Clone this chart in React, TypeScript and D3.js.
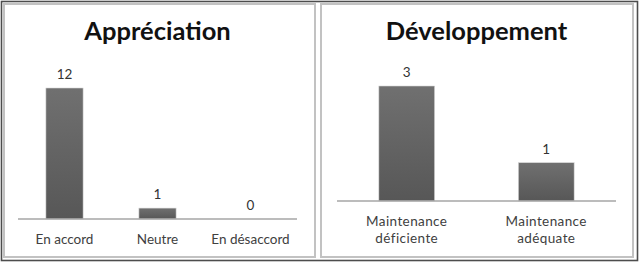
import React from "react";
import * as d3 from "d3";

const leftTitle = "Appréciation";
const leftCategories = ["En accord", "Neutre", "En désaccord"];
const leftValues = [12, 1, 0];

const rightTitle = "Développement";
const rightCategories = [["Maintenance", "déficiente"], ["Maintenance", "adéquate"]];
const rightValues = [3, 1];

const FONT = "Lato, 'Open Sans', sans-serif";

type PanelProps = {
  title: string;
  cats: string[][];
  values: number[];
  x0: number;
  x1: number;
  yBase: number;
  yTop: number;
  yMaxVal: number;
  letterSpacing: number;
};

function Panel({ title, cats, values, x0, x1, yBase, yTop, yMaxVal, letterSpacing }: PanelProps) {
  const keys = cats.map((c) => c.join(" "));
  const x = d3.scaleBand<string>().domain(keys).range([x0, x1]).paddingInner(0.6).paddingOuter(0.3);
  const y = d3.scaleLinear().domain([0, yMaxVal]).range([yBase, yTop]);
  return (
    <g>
      <text x={(x0 + x1) / 2} y={40} textAnchor="middle" fontFamily={FONT} fontWeight={700} fontSize={25.5} fill="#111">
        {title}
      </text>
      {values.map((v, i) => {
        const k = keys[i];
        const bx = x(k)!;
        const top = y(v);
        return (
          <g key={k}>
            {v > 0 && (
              <rect x={bx} y={top} width={x.bandwidth()} height={yBase - top} fill="url(#barGrad)" stroke="#d8d8d8" strokeWidth={0.6} />
            )}
            <text x={bx + x.bandwidth() / 2} y={top - 9} textAnchor="middle" fontFamily={FONT} fontSize={13.5} fill="#333">
              {v}
            </text>
          </g>
        );
      })}
      <line x1={x0} x2={x1} y1={yBase} y2={yBase} stroke="#a6a6a6" strokeWidth={1.5} />
      {cats.map((lines, i) => (
        <text key={keys[i]} x={x(keys[i])! + x.bandwidth() / 2} textAnchor="middle" fontFamily={FONT} fontSize={13.5} fill="#404040" letterSpacing={letterSpacing}>
          {lines.map((l, j) => (
            <tspan key={j} x={x(keys[i])! + x.bandwidth() / 2} y={yBase + 25 + j * 17}>
              {l}
            </tspan>
          ))}
        </text>
      ))}
    </g>
  );
}

export default function App() {
  return (
    <svg width={640} height={272} style={{ position: "fixed", left: 0, top: 0, background: "#fff" }}>
      <defs>
        <linearGradient id="barGrad" x1="0" y1="0" x2="0" y2="1">
          <stop offset="0" stopColor="#707070" />
          <stop offset="1" stopColor="#575757" />
        </linearGradient>
      </defs>
      <rect x={0} y={0} width={640} height={272} fill="#fff" />
      <rect x={1.5} y={1.5} width={636} height={259} fill="none" stroke="#4d4d4d" strokeWidth={1.6} />
      <rect x={4} y={4} width={311} height={253} fill="none" stroke="#c2c2c2" strokeWidth={2} />
      <rect x={321} y={4} width={312} height={253} fill="none" stroke="#c2c2c2" strokeWidth={2} />
      <Panel title={leftTitle} cats={leftCategories.map((c) => [c])} values={leftValues} x0={18} x1={297} yBase={219} yTop={88} yMaxVal={12} letterSpacing={0} />
      <Panel title={rightTitle} cats={rightCategories} values={rightValues} x0={337} x1={616} yBase={201} yTop={86} yMaxVal={3} letterSpacing={0.4} />
    </svg>
  );
}
